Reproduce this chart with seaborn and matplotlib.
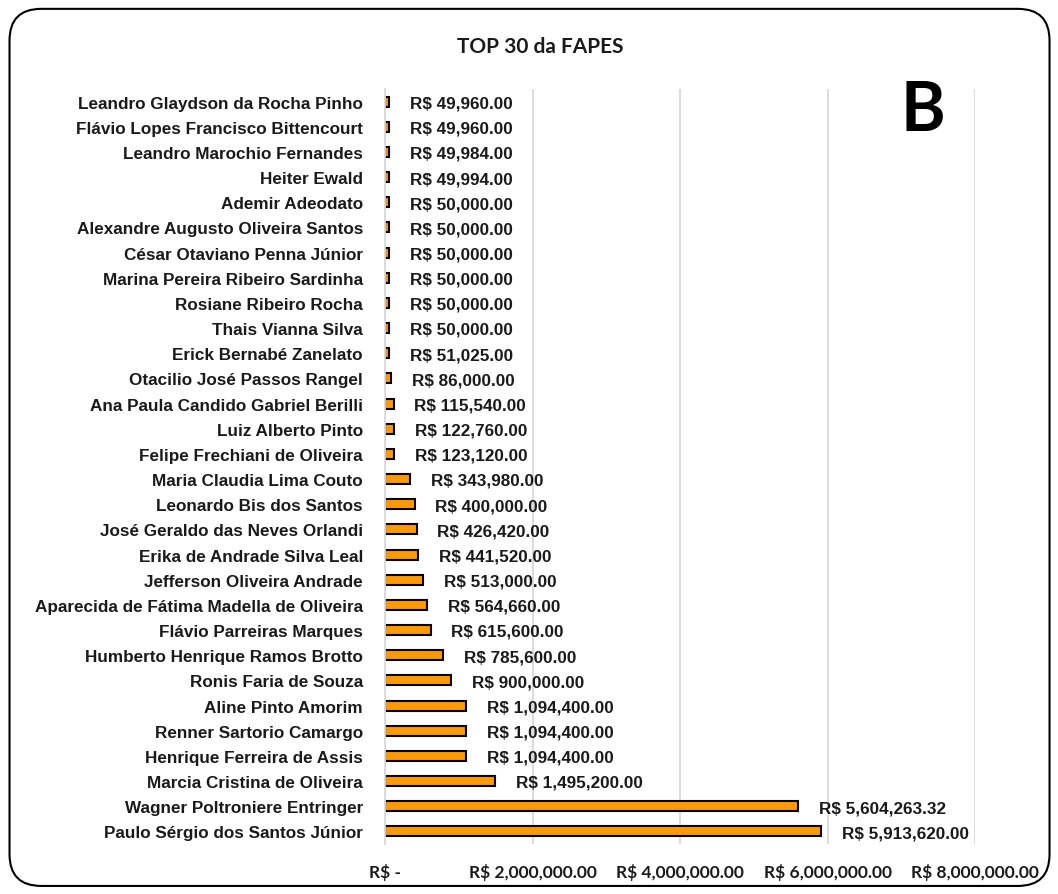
import matplotlib
matplotlib.use("Agg")
import matplotlib.pyplot as plt
import seaborn as sns
import pandas as pd
from matplotlib.patches import FancyBboxPatch
from matplotlib.ticker import FuncFormatter
from matplotlib import font_manager

names = [
    "Leandro Glaydson da Rocha Pinho",
    "Flávio Lopes Francisco Bittencourt",
    "Leandro Marochio Fernandes",
    "Heiter Ewald",
    "Ademir Adeodato",
    "Alexandre Augusto Oliveira Santos",
    "César Otaviano Penna Júnior",
    "Marina Pereira Ribeiro Sardinha",
    "Rosiane Ribeiro Rocha",
    "Thais Vianna Silva",
    "Erick Bernabé Zanelato",
    "Otacilio José Passos Rangel",
    "Ana Paula Candido Gabriel Berilli",
    "Luiz Alberto Pinto",
    "Felipe Frechiani de Oliveira",
    "Maria Claudia Lima Couto",
    "Leonardo Bis dos Santos",
    "José Geraldo das Neves Orlandi",
    "Erika de Andrade Silva Leal",
    "Jefferson Oliveira Andrade",
    "Aparecida de Fátima Madella de Oliveira",
    "Flávio Parreiras Marques",
    "Humberto Henrique Ramos Brotto",
    "Ronis Faria de Souza",
    "Aline Pinto Amorim",
    "Renner Sartorio Camargo",
    "Henrique Ferreira de Assis",
    "Marcia Cristina de Oliveira",
    "Wagner Poltroniere Entringer",
    "Paulo Sérgio dos Santos Júnior",
]
values = [
    49960.00, 49960.00, 49984.00, 49994.00, 50000.00, 50000.00, 50000.00,
    50000.00, 50000.00, 50000.00, 51025.00, 86000.00, 115540.00, 122760.00,
    123120.00, 343980.00, 400000.00, 426420.00, 441520.00, 513000.00,
    564660.00, 615600.00, 785600.00, 900000.00, 1094400.00, 1094400.00,
    1094400.00, 1495200.00, 5604263.32, 5913620.00,
]
x_ticks = [0, 2000000, 4000000, 6000000, 8000000]

df = pd.DataFrame({"nome": names, "valor": values})

sns.set_theme(style="white")
plt.rcParams["font.family"] = ["Liberation Sans", "DejaVu Sans"]

arial_b = font_manager.FontProperties(family="Liberation Sans", weight="bold", size=12.3)
calib_b = font_manager.FontProperties(family="Lato", weight="bold", size=12.5)

fig = plt.figure(figsize=(10.58, 8.95), dpi=100)
ax = fig.add_axes([0.364, 0.0559, 0.5576, 0.8435])

sns.barplot(data=df, x="valor", y="nome", orient="h", color="#FF9900",
            edgecolor="black", linewidth=1.5, width=0.4, saturation=1, ax=ax)

ax.set_xlim(0, 8000000)
ax.set_xticks(x_ticks)

def brl(v, pos=None):
    if v == 0:
        return "R$ -"
    return f"R$ {v:,.2f}"

ax.xaxis.set_major_formatter(FuncFormatter(brl))
ax.grid(axis="x", color="#D9D9D9", linewidth=1.3)
ax.set_axisbelow(True)
for s in ax.spines.values():
    s.set_visible(False)
ax.spines["left"].set_visible(True)
ax.spines["left"].set_color("#D9D9D9")
ax.spines["left"].set_linewidth(1.3)
ax.set_xlabel("")
ax.set_ylabel("")
ax.tick_params(axis="both", length=0)
ax.tick_params(axis="y", pad=16)
ax.tick_params(axis="x", pad=14)

for lbl in ax.get_yticklabels():
    lbl.set_fontproperties(arial_b)
    lbl.set_color("#1a1a1a")
for lbl in ax.get_xticklabels():
    lbl.set_fontproperties(calib_b)
    lbl.set_color("#1a1a1a")

for i, v in enumerate(values):
    ax.annotate(brl(v), xy=(v, i), xytext=(15, -1), textcoords="offset points",
                ha="left", va="center", fontproperties=arial_b,
                color="#1a1a1a", annotation_clip=False)

fig.text(0.511, 0.947, "TOP 30 da FAPES", ha="center", va="center",
         fontsize=15, fontweight="bold", family=["Lato", "DejaVu Sans"],
         color="#1a1a1a")
fig.text(0.8724, 0.875, "B", ha="center", va="center", fontsize=49,
         fontweight="bold", family=["Lato", "DejaVu Sans"], color="black")

frame = FancyBboxPatch((0.009, 0.009), 0.983, 0.98,
                       boxstyle="round,pad=0,rounding_size=0.03",
                       transform=fig.transFigure, fill=False,
                       edgecolor="black", linewidth=1.5,
                       mutation_aspect=1058 / 895)
fig.patches.append(frame)

fig.savefig("out.png", dpi=100)
